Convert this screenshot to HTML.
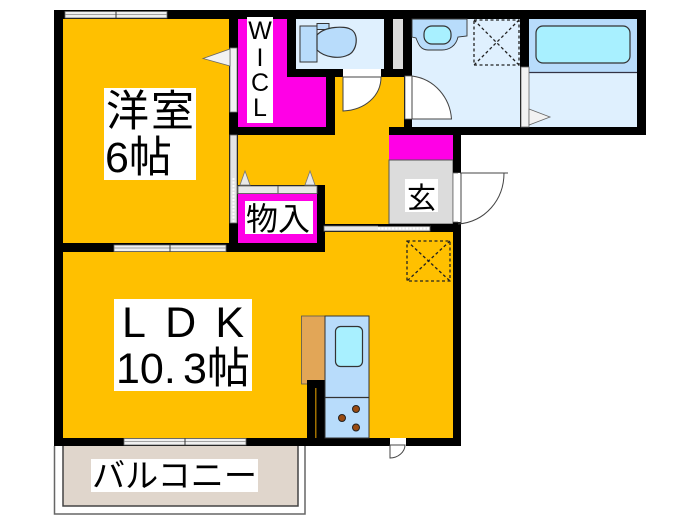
<!DOCTYPE html>
<html><head><meta charset="utf-8"><style>
html,body{margin:0;padding:0;background:#fff;width:700px;height:525px;overflow:hidden}
svg{display:block}
text{font-family:"Liberation Sans","Noto Sans CJK JP",sans-serif;fill:#000}
</style></head><body>
<svg width="700" height="525" viewBox="0 0 700 525" xmlns="http://www.w3.org/2000/svg">
<!-- balcony -->
<path d="M54.500 446V514H305V446" fill="#fff" stroke="#666" stroke-width="1.500"/>
<path d="M63 446V506H298V446" fill="#e0d6cc" stroke="#444" stroke-width="1.500"/>
<!-- wall base -->
<path d="M54 10H646V135H461V446H54Z" fill="#000"/>
<!-- rooms -->
<rect x="63" y="19" width="166" height="224" fill="#ffc000"/>
<rect x="63" y="252" width="390" height="186" fill="#ffc000"/>
<rect x="325" y="232" width="128" height="30" fill="#ffc000"/>
<path d="M238 135H389V224H325V185H238Z" fill="#ffc000"/>
<rect x="335" y="77" width="69" height="60" fill="#ffc000"/>
<path d="M238 19H287V77H326V127H238Z" fill="#ff00e6"/>
<rect x="296" y="19" width="88" height="50" fill="#dff0fe"/>
<rect x="393" y="19" width="10" height="50" fill="#dcdcdc"/>
<rect x="412" y="19" width="108" height="108" fill="#dff0fe"/>
<rect x="529" y="19" width="108" height="108" fill="#dff0fe"/>
<rect x="529" y="19" width="108" height="53" fill="#b8dcfb"/>
<path d="M529 72.500H637" stroke="#334" stroke-width="1.200"/>
<rect x="389" y="135" width="64" height="25" fill="#ff00e6"/>
<rect x="389" y="160" width="64" height="64" fill="#dcdcdc" stroke="#555" stroke-width="1"/>
<!-- lower storage -->
<rect x="229" y="135" width="9" height="108" fill="#000"/>
<rect x="229" y="185" width="96" height="67" fill="#000"/>
<rect x="238" y="194" width="79" height="49" fill="#ff00e6"/>
<rect x="238" y="186" width="79" height="7.500" fill="#e8e8e8" stroke="#666" stroke-width=".8"/>
<path d="M278 186V193" stroke="#555"/>
<path d="M240 185L245 171L250 185ZM305 185L310 171L315 185Z" fill="#e8e8e8" stroke="#777" stroke-width=".8"/>
<!-- inner walls -->
<rect x="325" y="224" width="136" height="8" fill="#000"/>
<rect x="453" y="135" width="8" height="311" fill="#000"/>
<rect x="389" y="127" width="72" height="8" fill="#000"/>
<!-- sliding door 洋室 -->
<rect x="230" y="135" width="7" height="88" fill="#e4e4e4" stroke="#666" stroke-width=".8"/>
<path d="M233.500 178V222" stroke="#fff" stroke-width="2" stroke-dasharray="2 1.500"/>
<!-- sliding door hall -->
<rect x="324" y="226" width="106" height="5" fill="#e8e8e8" stroke="#666" stroke-width=".8"/>
<path d="M378 228.500H430" stroke="#fff" stroke-width="2" stroke-dasharray="2 1.500"/>
<rect x="378" y="224" width="52" height="2.500" fill="#000"/>
<!-- WIC door -->
<rect x="230" y="48" width="7" height="64" fill="#f2f2f2" stroke="#777" stroke-width=".8"/>
<path d="M203 58.500L230 49V66Z" fill="#f2f2f2" stroke="#666" stroke-width=".8"/>
<!-- windows -->
<g fill="#f0f0f0" stroke="#666" stroke-width=".8">
<rect x="65" y="11.500" width="102" height="6.500"/>
<rect x="114" y="245" width="112" height="6.500"/>
<rect x="124" y="438.500" width="122" height="6.500"/>
</g>
<path d="M65 14.500H167M116 14.500M114 248H226M124 441.500H246" stroke="#888" stroke-width=".8"/>
<path d="M116 11.500V18M170 245V251.500M185 438.500V445" stroke="#333" stroke-width="1"/>
<!-- WC -->
<rect x="300" y="26" width="17" height="36" fill="#b8dcfb" stroke="#333" stroke-width="1"/>
<rect x="317" y="23.500" width="12" height="6" fill="#b8dcfb" stroke="#333" stroke-width="1"/>
<path d="M317 35C325 26 345 26 350 29C360 33 357 52 348 55C340 59 325 58 317 50Z" fill="#b8dcfb" stroke="#333" stroke-width="1.200"/>
<!-- door toilet -->
<rect x="343" y="69" width="38" height="8" fill="#fff"/>
<path d="M343 77H381C381 96 365 110 343 111Z" fill="#fff" stroke="#444" stroke-width="1"/>
<!-- washroom door -->
<rect x="405" y="76" width="7" height="43" fill="#fff" stroke="#666" stroke-width=".8"/>
<path d="M412 76C435 79 450 98 451.500 119H412Z" fill="#fff" stroke="#444" stroke-width="1"/>
<!-- washbasin -->
<path d="M412 19H467V36L458 37C456 46 449 50 442 50H428C420 50 418 43 416 38L412 37Z" fill="#b8dcfb" stroke="#333" stroke-width=".9"/>
<rect x="424" y="26" width="27" height="18" rx="8" fill="#a8f0ff" stroke="#333" stroke-width="1.200"/>
<!-- dashed square bath -->
<g fill="none" stroke="#222" stroke-width="1.300" stroke-dasharray="3 2.500">
<rect x="474" y="20" width="45" height="45"/>
<path d="M474 20L519 65M519 20L474 65"/>
<rect x="407" y="241" width="43" height="40"/>
<path d="M407 241L450 281M450 241L407 281"/>
</g>
<!-- bath door -->
<rect x="521" y="67" width="8" height="60" fill="#f2f2f2" stroke="#666" stroke-width=".8"/>
<path d="M529 109L550 117L529 125Z" fill="#f2f2f2" stroke="#666" stroke-width=".8"/>
<rect x="536" y="26" width="94" height="37" rx="7" fill="#a8f0ff" stroke="#333" stroke-width="1.200"/>
<!-- entrance door -->
<rect x="453" y="173" width="8" height="49" fill="#fff" stroke="#666" stroke-width=".8"/>
<rect x="458" y="173" width="3" height="49" fill="#fff"/>
<path d="M460 173H508M461 173V224M504 173C504 200 485 222 458 224" fill="none" stroke="#444" stroke-width="1"/>
<!-- kitchen -->
<rect x="301.500" y="316" width="24" height="68" fill="#e2a657" stroke="#555" stroke-width=".8"/>
<rect x="307" y="380" width="18" height="60" fill="#000"/>
<rect x="315" y="388" width="1.500" height="50" fill="#a07000"/>
<rect x="325" y="316" width="44" height="122" fill="#b8dcfb" stroke="#333" stroke-width="1"/>
<path d="M325 397.500H369" stroke="#333" stroke-width="1.200"/>
<rect x="335.500" y="326.500" width="27" height="40" rx="5" fill="#a8f0ff" stroke="#333" stroke-width="1.200"/>
<g fill="#9a4a10" stroke="#222" stroke-width="1">
<circle cx="342" cy="418" r="3.500"/><circle cx="356" cy="409" r="3.500"/><circle cx="356" cy="427.500" r="3.500"/>
</g>
<!-- small door bottom -->
<rect x="390" y="438" width="16" height="8" fill="#fff"/>
<path d="M390 445H405C405 452 398 458 390 458Z" fill="#fff" stroke="#444" stroke-width="1"/>
<!-- labels -->
<rect x="104" y="88" width="92" height="92" fill="#fff"/>
<text x="106" y="126" font-size="43" textLength="88" lengthAdjust="spacing">洋室</text>
<text x="105" y="172" font-size="43">6帖</text>
<rect x="247" y="17" width="26" height="106" fill="#fff"/>
<text x="260" y="39" font-size="25" text-anchor="middle">W</text>
<text x="260" y="66" font-size="25" text-anchor="middle">I</text>
<text x="260" y="91" font-size="25" text-anchor="middle">C</text>
<text x="260" y="116" font-size="25" text-anchor="middle">L</text>
<rect x="245" y="201" width="68" height="33" fill="#fff"/>
<text x="246" y="230" font-size="32">物入</text>
<rect x="405" y="179" width="33" height="33" fill="#fff"/>
<text x="407" y="208" font-size="29">玄</text>
<rect x="114" y="299" width="138" height="92" fill="#fff"/>
<text x="122" y="337" font-size="43" textLength="122" lengthAdjust="spacing">LDK</text>
<text x="116" y="383" font-size="43">10.</text>
<text x="183" y="383" font-size="43">3帖</text>
<rect x="91" y="459" width="167" height="33" fill="#fff"/>
<text x="92" y="487" font-size="33" textLength="165" lengthAdjust="spacingAndGlyphs">バルコニー</text>
</svg>
</body></html>
